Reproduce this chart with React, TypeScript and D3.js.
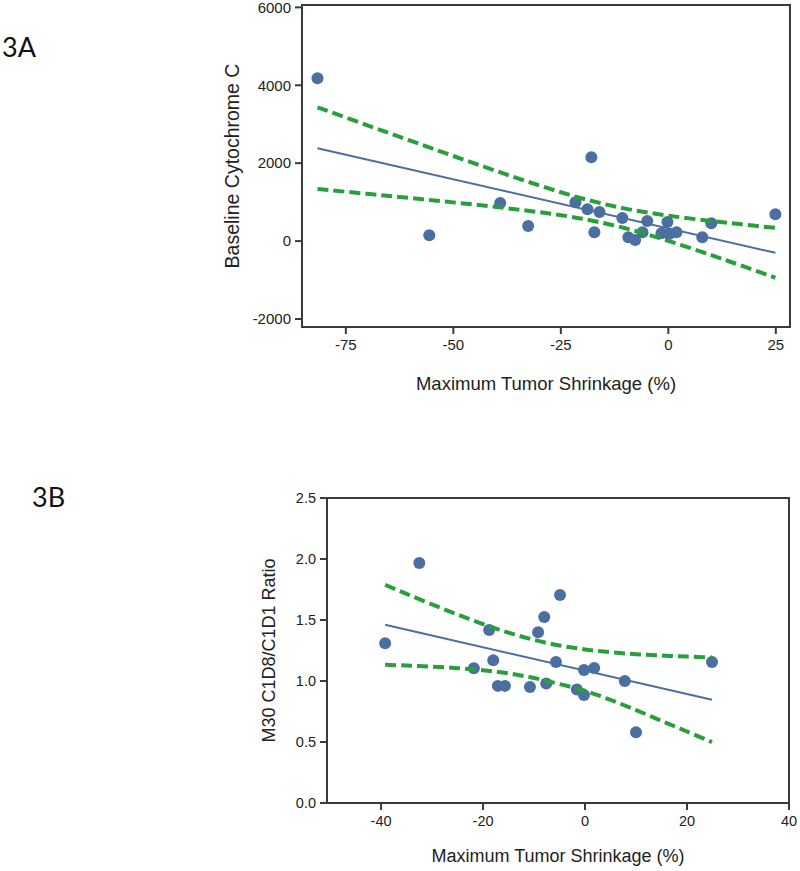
import React from "react";
import * as d3 from "d3";

// ---------- Panel 3A data ----------
const xA = [-81.6, -55.6, -39.1, -32.6, -21.6, -17.9, -18.8, -17.2, -16.0, -10.7, -9.3, -7.7, -6.0, -4.9, -1.6, -0.2, 0.2, 1.9, 7.9, 10.0, 24.9];
const yA = [4180, 150, 975, 385, 1000, 2150, 820, 230, 745, 590, 100, 25, 230, 515, 200, 490, 180, 230, 100, 460, 690];
const fitXA = [-81.6, 24.9];
const fitYA = [2385, -300];
const ciXA = [-81.6, -70, -60, -50, -40, -30, -20, -10, 0, 10, 17, 24.9];
const ciUpperA = [3435, 2973, 2577, 2184, 1799, 1428, 1093, 833, 653, 516, 430, 339];
const ciLowerA = [1335, 1213, 1105, 994, 875, 742, 573, 329, 5, -362, -630, -941];
const xTicksA = [-75, -50, -25, 0, 25];
const yTicksA = [-2000, 0, 2000, 4000, 6000];

// ---------- Panel 3B data ----------
const xB = [-39.2, -32.5, -21.8, -18.8, -18.0, -17.1, -15.7, -10.8, -9.2, -8.0, -7.6, -5.7, -4.9, -1.6, -0.2, -0.2, 1.8, 7.8, 10.0, 24.9];
const yB = [1.31, 1.967, 1.105, 1.418, 1.17, 0.96, 0.96, 0.95, 1.40, 1.525, 0.98, 1.156, 1.705, 0.93, 1.09, 0.885, 1.107, 1.0, 0.58, 1.156];
const fitXB = [-39.2, 24.9];
const fitYB = [1.461, 0.846];
const ciXB = [-39.2, -35, -30, -25, -20, -15, -10, -5, 0, 5, 10, 15, 20, 24.9];
const ciUpperB = [1.789, 1.714, 1.628, 1.545, 1.467, 1.396, 1.337, 1.291, 1.259, 1.236, 1.22, 1.209, 1.2, 1.193];
const ciLowerB = [1.133, 1.127, 1.118, 1.105, 1.088, 1.062, 1.025, 0.975, 0.92, 0.845, 0.762, 0.673, 0.586, 0.499];
const xTicksB = [-40, -20, 0, 20, 40];
const yTicksB = [0, 0.5, 1.0, 1.5, 2.0, 2.5];

const FONT = "'Liberation Sans', Arial, Helvetica, sans-serif";
const DOT = "#4a6fa0";
const GREEN = "#28a03a";
const AXIS = "#3a3a3a";

type PanelProps = {
  left: number; right: number; top: number; bottom: number;
  xDomain: [number, number]; yDomain: [number, number];
  xs: number[]; ys: number[];
  fitX: number[]; fitY: number[];
  ciX: number[]; ciU: number[]; ciL: number[];
  xTicks: number[]; yTicks: number[];
  yFmt: (v: number) => string;
  tickFont: number; titleFont: number; yTitleFont: number;
  xTitle: string; yTitle: string; yTitleX: number; xTitleY: number;
  r: number;
};

function Panel(p: PanelProps) {
  const x = d3.scaleLinear().domain(p.xDomain).range([p.left, p.right]);
  const y = d3.scaleLinear().domain(p.yDomain).range([p.bottom, p.top]);
  const line = d3.line<[number, number]>().x(d => x(d[0])).y(d => y(d[1]));
  const curve = d3.line<[number, number]>().x(d => x(d[0])).y(d => y(d[1])).curve(d3.curveCatmullRom.alpha(0.5));
  const fit = line(p.fitX.map((v, i) => [v, p.fitY[i]] as [number, number])) || "";
  const up = curve(p.ciX.map((v, i) => [v, p.ciU[i]] as [number, number])) || "";
  const lo = curve(p.ciX.map((v, i) => [v, p.ciL[i]] as [number, number])) || "";
  const tickLen = 7;
  const cx = (p.left + p.right) / 2;
  const cy = (p.top + p.bottom) / 2;
  return (
    <g fontFamily={FONT}>
      {p.xs.map((v, i) => (
        <circle key={i} cx={x(v)} cy={y(p.ys[i])} r={p.r} fill={DOT} />
      ))}
      <path d={fit} fill="none" stroke={DOT} strokeWidth={2} />
      <path d={up} fill="none" stroke={GREEN} strokeWidth={4} strokeDasharray="11,5" />
      <path d={lo} fill="none" stroke={GREEN} strokeWidth={4} strokeDasharray="11,5" />
      <rect x={p.left} y={p.top} width={p.right - p.left} height={p.bottom - p.top} fill="none" stroke={AXIS} strokeWidth={2} />
      {p.yTicks.map(t => (
        <g key={"y" + t}>
          <line x1={p.left - tickLen} x2={p.left} y1={y(t)} y2={y(t)} stroke={AXIS} strokeWidth={2} />
          <text x={p.left - tickLen - 4} y={y(t)} dy="0.35em" textAnchor="end" fontSize={p.tickFont} fill="#222">{p.yFmt(t)}</text>
        </g>
      ))}
      {p.xTicks.map(t => (
        <g key={"x" + t}>
          <line x1={x(t)} x2={x(t)} y1={p.bottom} y2={p.bottom + tickLen} stroke={AXIS} strokeWidth={2} />
          <text x={x(t)} y={p.bottom + tickLen + 4} dy="0.8em" textAnchor="middle" fontSize={p.tickFont} fill="#222">{t}</text>
        </g>
      ))}
      <text x={cx} y={p.xTitleY} textAnchor="middle" fontSize={p.titleFont} fill="#222">{p.xTitle}</text>
      <text transform={`translate(${p.yTitleX},${cy}) rotate(-90)`} textAnchor="middle" dy="0.35em" fontSize={p.yTitleFont} fill="#222">{p.yTitle}</text>
    </g>
  );
}

export default function App() {
  return (
    <div style={{ position: "absolute", left: 0, top: 0 }}>
      <svg width={800} height={871} style={{ display: "block", background: "#fff" }}>
        <text x={2} y={57} fontFamily="Lato, 'Open Sans', sans-serif" fontSize={27} fill="#111">3A</text>
        <text x={32} y={507} fontFamily="Lato, 'Open Sans', sans-serif" fontSize={27} fill="#111">3B</text>
        <Panel
          left={302} right={790} top={5} bottom={327}
          xDomain={[-85.2, 28.3]} yDomain={[-2205, 6060]}
          xs={xA} ys={yA} fitX={fitXA} fitY={fitYA}
          ciX={ciXA} ciU={ciUpperA} ciL={ciLowerA}
          xTicks={xTicksA} yTicks={yTicksA} yFmt={v => String(v)}
          tickFont={15} titleFont={18.5} yTitleFont={19.5}
          xTitle="Maximum Tumor Shrinkage (%)" yTitle="Baseline Cytochrome C"
          yTitleX={232} xTitleY={390} r={6}
        />
        <Panel
          left={327} right={789} top={498} bottom={803}
          xDomain={[-50.6, 40]} yDomain={[0, 2.5]}
          xs={xB} ys={yB} fitX={fitXB} fitY={fitYB}
          ciX={ciXB} ciU={ciUpperB} ciL={ciLowerB}
          xTicks={xTicksB} yTicks={yTicksB} yFmt={v => v.toFixed(1)}
          tickFont={14.5} titleFont={18} yTitleFont={18}
          xTitle="Maximum Tumor Shrinkage (%)" yTitle="M30 C1D8/C1D1 Ratio"
          yTitleX={269} xTitleY={862} r={6}
        />
      </svg>
    </div>
  );
}
